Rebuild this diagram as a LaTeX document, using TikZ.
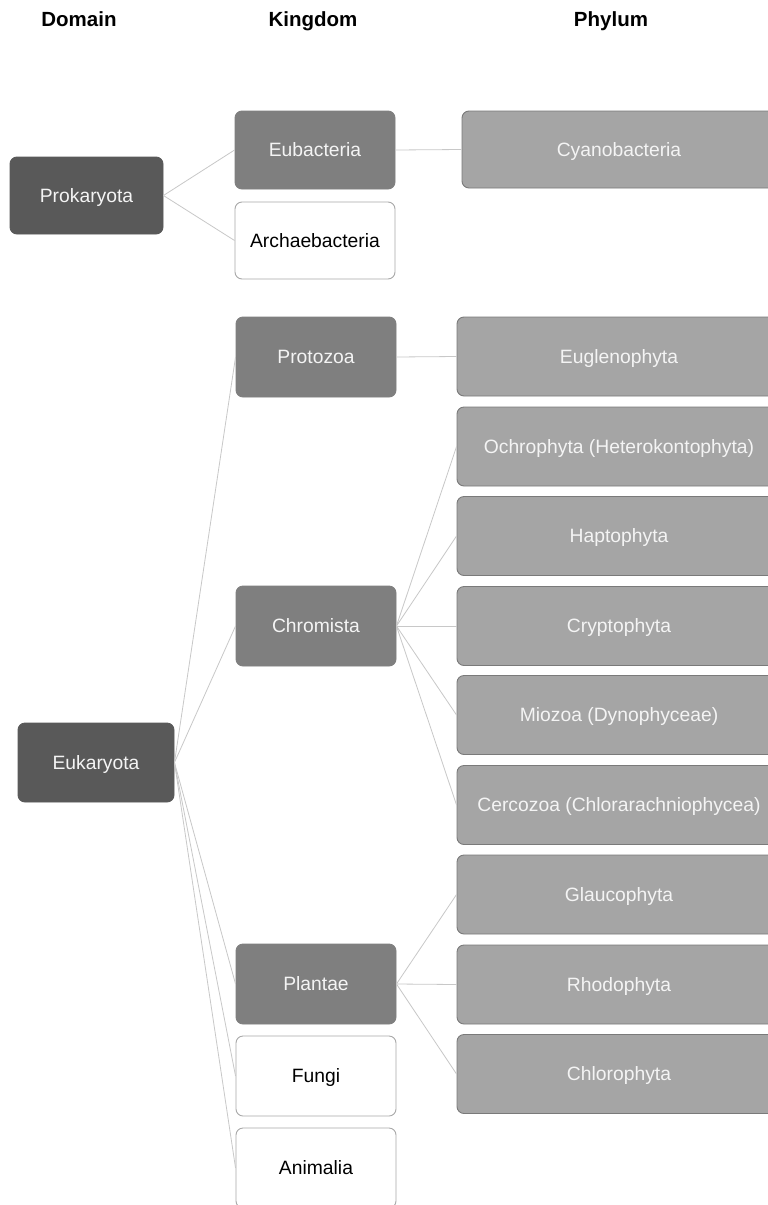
\documentclass[tikz,border=0pt]{standalone}
\usepackage{fontspec}
\setmainfont{Liberation Sans}
\definecolor{domfill}{HTML}{595959}
\definecolor{kingfill}{HTML}{7F7F7F}
\definecolor{phylfill}{HTML}{A5A5A5}
\definecolor{phylline}{HTML}{7A7A7A}
\definecolor{whiteline}{HTML}{A8A8A8}
\definecolor{conn}{HTML}{C8C8C8}
\definecolor{boxtext}{HTML}{F4F4F4}
\tikzset{
  box/.style={rectangle, rounded corners=7pt, inner sep=0pt, align=center,
    font=\fontsize{19.3}{23}\selectfont, line width=0.9pt,
    text height=13.9pt, text depth=0pt},
  dombox/.style={box, fill=domfill, draw=domfill, text=boxtext},
  kingbox/.style={box, fill=kingfill, draw=kingfill, text=boxtext, minimum width=160pt, minimum height=79pt},
  plainbox/.style={box, fill=white, draw=whiteline, text=black, minimum width=160pt, minimum height=79pt},
  phylbox/.style={box, fill=phylfill, draw=phylline, text=boxtext, minimum width=324pt, minimum height=79pt},
  header/.style={font=\fontsize{20.5}{24}\selectfont\bfseries, text=black, inner sep=0pt, anchor=base},
  link/.style={draw=conn, line width=0.8pt}
}
\begin{document}
\begin{tikzpicture}[x=1pt,y=-1pt]
\useasboundingbox (0,0) rectangle (768,1205);
\clip (0,0) rectangle (768,1205);
\fill[white] (0,0) rectangle (768,1205);

% headers
\node[header] (hdom) at (79,26) {Domain};
\node[header] (hking) at (313,26) {Kingdom};
\node[header] (hphyl) at (611,26) {Phylum};

% domains
\node[dombox, minimum width=153pt, minimum height=77pt] (prok) at (86.5,195.5) {Prokaryota};
\node[dombox, minimum width=156pt, minimum height=79pt] (euk) at (96,762.5) {Eukaryota};

% kingdoms
\node[kingbox, minimum height=78pt] (eubac) at (315,150) {Eubacteria};
\node[plainbox, minimum height=77pt] (archae) at (315,240.5) {Archaebacteria};
\node[kingbox, minimum height=80pt] (proto) at (316,357) {Protozoa};
\node[kingbox, minimum height=80pt] (chrom) at (316,626) {Chromista};
\node[kingbox, minimum height=80pt] (plant) at (316,984) {Plantae};
\node[plainbox, minimum height=80pt] (fungi) at (316,1076) {Fungi};
\node[plainbox, minimum height=80pt] (anim) at (316,1168) {Animalia};

% phyla
\node[phylbox, minimum width=314pt, minimum height=77pt] (cyano) at (619,149.5) {Cyanobacteria};
\node[phylbox] (eugl) at (619,356.5) {Euglenophyta};
\node[phylbox] (ochro) at (619,446.5) {Ochrophyta (Heterokontophyta)};
\node[phylbox] (hapto) at (619,536) {Haptophyta};
\node[phylbox] (crypto) at (619,626) {Cryptophyta};
\node[phylbox] (mio) at (619,715) {Miozoa (Dynophyceae)};
\node[phylbox] (cerco) at (619,805) {Cercozoa (Chlorarachniophycea)};
\node[phylbox] (glauco) at (619,894.5) {Glaucophyta};
\node[phylbox] (rhodo) at (619,984.5) {Rhodophyta};
\node[phylbox] (chloro) at (619,1074) {Chlorophyta};

% connectors
\draw[link] (prok.east) -- (eubac.west);
\draw[link] (prok.east) -- (archae.west);
\draw[link] (eubac.east) -- (cyano.west);
\draw[link] (euk.east) -- (proto.west);
\draw[link] (euk.east) -- (chrom.west);
\draw[link] (euk.east) -- (plant.west);
\draw[link] (euk.east) -- (fungi.west);
\draw[link] (euk.east) -- (anim.west);
\draw[link] (proto.east) -- (eugl.west);
\draw[link] (chrom.east) -- (ochro.west);
\draw[link] (chrom.east) -- (hapto.west);
\draw[link] (chrom.east) -- (crypto.west);
\draw[link] (chrom.east) -- (mio.west);
\draw[link] (chrom.east) -- (cerco.west);
\draw[link] (plant.east) -- (glauco.west);
\draw[link] (plant.east) -- (rhodo.west);
\draw[link] (plant.east) -- (chloro.west);
\end{tikzpicture}
\end{document}
